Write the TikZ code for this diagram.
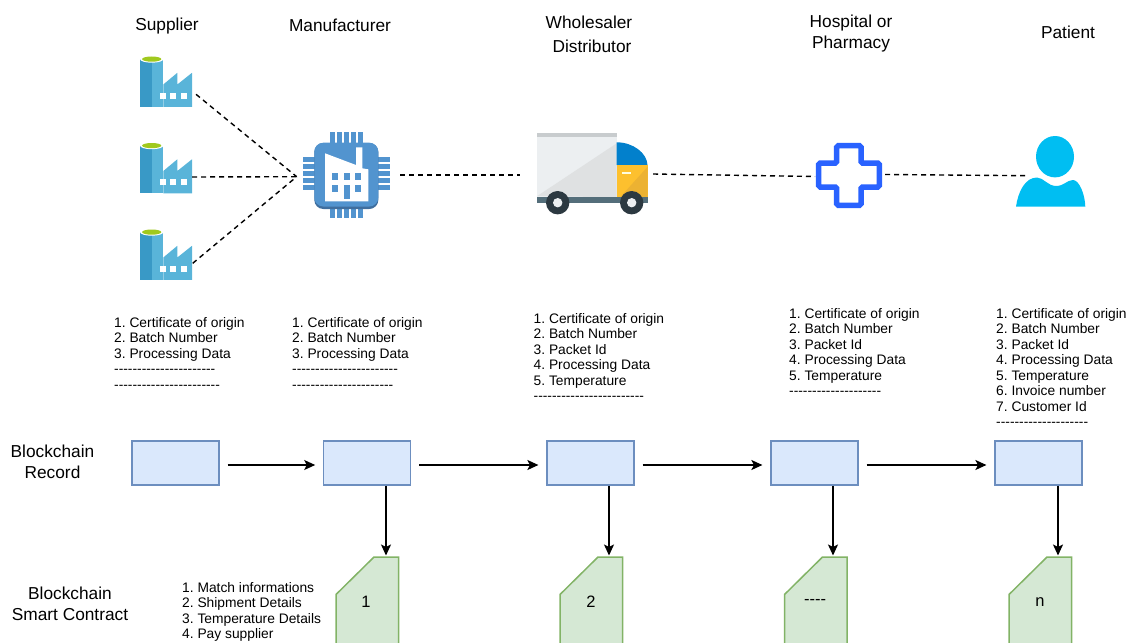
\documentclass[tikz,border=0pt]{standalone}
\usepackage{fontspec}
\newfontfamily\hv{Liberation Sans}
\usetikzlibrary{arrows.meta}
\definecolor{fdark}{HTML}{3999C6}
\definecolor{flight}{HTML}{59B4D9}
\definecolor{fgreen}{HTML}{A0C91E}
\definecolor{chipb}{HTML}{5294CF}
\definecolor{chipd}{HTML}{3F6E9E}
\definecolor{crossb}{HTML}{2962FF}
\definecolor{persb}{HTML}{00BEF2}
\definecolor{recfill}{HTML}{DAE8FC}
\definecolor{recline}{HTML}{6C8EBF}
\definecolor{cardfill}{HTML}{D5E8D4}
\definecolor{cardline}{HTML}{82B366}
\definecolor{truckbody}{HTML}{ECEFF1}
\definecolor{truckshade}{HTML}{DFE1E2}
\definecolor{truckstripe}{HTML}{C8CCCE}
\definecolor{truckblue}{HTML}{0280CC}
\definecolor{truckyellow}{HTML}{FDC02E}
\definecolor{truckamber}{HTML}{ECB232}
\definecolor{truckbase}{HTML}{546E7A}
\definecolor{truckwheel}{HTML}{2C3941}
\definecolor{truckdash}{HTML}{FFFDE0}
\frenchspacing
\tikzset{
  x=1pt,y=-1pt,
  txt/.style={font=\hv\frenchspacing\fontsize{17.3}{21}\selectfont,inner sep=0pt,align=center},
  cardtxt/.style={font=\hv\fontsize{16.5}{18}\selectfont,inner sep=0pt,align=center},
  lst/.style={font=\hv\frenchspacing\fontsize{13.8}{15.5}\selectfont,inner sep=0pt,align=left,anchor=north west},
  recbox/.style={draw=recline,fill=recfill,line width=1.2pt,minimum width=87pt,minimum height=44pt,inner sep=0pt},
  dashline/.style={dash pattern=on 5pt off 4pt,line width=1.4pt,black},
  arr/.style={-{Stealth[length=11pt,width=10pt,inset=2.5pt]},line width=1.4pt,black},
  cardshape/.style={fill=cardfill,draw=cardline,line width=1.5pt},
  factory/.pic={
    \fill[flight] (12,3) rectangle (23.3,51.3);
    \fill[flight] (23.3,29) -- (37.3,17.3) -- (37.3,29) -- (52,17.3) -- (52,51.3) -- (23.3,51.3) -- cycle;
    \fill[fdark] (0,3.5) rectangle (12,51.3);
    \fill[white] (11.7,3.6) ellipse [x radius=11.7,y radius=3.6];
    \fill[fgreen] (11.7,3.6) ellipse [x radius=9.6,y radius=2.6];
    \fill[white] (20.4,37) rectangle (26.2,43);
    \fill[white] (30.4,37) rectangle (36.2,43);
    \fill[white] (40.8,37) rectangle (46.8,43);
  },
  card/.pic={
    \path[cardshape] (0,37.5) -- (38,0) -- (62.7,0) -- (62.7,90) -- (0,90) -- cycle;
  }
}
\newcommand{\chippins}{%
  \foreach \i in {0,1,2,3,4}{
    \fill[chipb] (330+\i*7,132) rectangle (334.7+\i*7,144);
    \fill[chipb] (330+\i*7,207) rectangle (334.7+\i*7,217.5);
    \fill[chipb] (303.3,157+\i*7) rectangle (315,161.7+\i*7);
    \fill[chipb] (378,157+\i*7) rectangle (390,161.7+\i*7);
  }}
\begin{document}
\begin{tikzpicture}
\useasboundingbox (0,0) rectangle (1131,642);
% headings
\node[txt] (hsup) at (167,26) {Supplier};
\node[txt] (hman) at (340,25) {Manufacturer};
\node[txt] (hwh1) at (589,22) {Wholesaler};
\node[txt] (hwh2) at (592,46) {Distributor};
\node[txt] (hhos) at (851,34) {Hospital or\\Pharmacy};
\node[txt] (hpat) at (1068,32) {Patient};
% factories
\pic at (140,55.5) {factory};
\pic at (140,142) {factory};
\pic at (140,228.5) {factory};
% chip
\chippins
\fill[chipd,rounded corners=9pt] (314.3,143) rectangle (378.3,209);
\fill[chipb,rounded corners=9pt] (314.3,142.7) rectangle (378.3,206.5);
\fill[white] (325,153.3) -- (356,165) -- (356,147.3) -- (362.3,147.3) -- (362.3,168.3) -- (368.3,169.3) -- (368.3,201.3) -- (325,201.3) -- cycle;
\foreach \x in {332,343.7,355.3}{
  \fill[chipb] (\x,173.3) rectangle (\x+6,180);
  \fill[chipb] (\x,184.7) rectangle (\x+6,191.7);
}
\fill[chipb] (343.7,191) rectangle (349.7,199.3);
% truck
\fill[truckbody] (537.3,133.3) rectangle (616.7,197.3);
\fill[truckshade] (537.3,196) -- (616.7,143.3) -- (616.7,197.3) -- cycle;
\fill[truckstripe] (537.3,133.3) rectangle (616.7,136.7);
\fill[truckblue] (616.7,142.3) .. controls (633,142.3) and (647,153) .. (647.5,165) -- (616.7,165) -- cycle;
\fill[truckyellow] (616.7,165) rectangle (647.7,197.3);
\fill[truckamber] (647.7,166.7) -- (620,197.3) -- (647.7,197.3) -- cycle;
\fill[truckdash] (622,172) rectangle (630.7,173.7);
\fill[truckbase] (537.3,197.3) rectangle (648,202.7);
\foreach \x in {557.7,631.7}{
  \fill[truckwheel] (\x,202.7) circle (11.7);
  \fill[truckbody] (\x,202.7) circle (4.7);
}
% cross
\draw[crossb,line width=5.5pt,rounded corners=1.5pt,fill=white]
  (836.7,145.7) -- (861,145.7) -- (861,163) -- (879.3,163) -- (879.3,187) -- (861,187) -- (861,205.3) -- (836.7,205.3) -- (836.7,187) -- (818.7,187) -- (818.7,163) -- (836.7,163) -- cycle;
% person
\fill[persb] (1055,156.7) ellipse [x radius=19,y radius=20.7];
\fill[persb] (1016,206.7) .. controls (1018,192) and (1025,177.5) .. (1037,177.5)
  .. controls (1043,177.5) and (1048,186) .. (1056,186)
  .. controls (1064,186) and (1067,180) .. (1073,180)
  .. controls (1079,180) and (1085,194) .. (1085.3,206.7) -- cycle;
% dashed links
\coordinate (dsup1) at (196,94.3);
\coordinate (dsup2) at (192,177);
\coordinate (dsup3) at (192.7,263.3);
\coordinate (dmanin) at (296.7,176.7);
\coordinate (dmanout) at (400,175);
\coordinate (dtruckin) at (520,175);
\coordinate (dtruckout) at (653,174);
\coordinate (dcrossin) at (815,176.5);
\coordinate (dcrossout) at (885,174.5);
\coordinate (dperson) at (1026.7,175.7);
\draw[dashline] (dsup1) -- (dmanin);
\draw[dashline] (dsup2) -- (dmanin);
\draw[dashline] (dsup3) -- (dmanin);
\draw[dashline] (dmanout) -- (dtruckin);
\draw[dashline] (dtruckout) -- (dcrossin);
\draw[dashline] (dcrossout) -- (dperson);
% lists
\node[lst] (l1) at (114,317) {1. Certificate of origin\\2. Batch Number\\3. Processing Data\\----------------------\\-----------------------};
\node[lst] (l2) at (292,317) {1. Certificate of origin\\2. Batch Number\\3. Processing Data\\-----------------------\\----------------------};
\node[lst] (l3) at (533.5,313) {1. Certificate of origin\\2. Batch Number\\3. Packet Id\\4. Processing Data\\5. Temperature\\------------------------};
\node[lst] (l4) at (789,308) {1. Certificate of origin\\2. Batch Number\\3. Packet Id\\4. Processing Data\\5. Temperature\\--------------------};
\node[lst] (l5) at (996,308) {1. Certificate of origin\\2. Batch Number\\3. Packet Id\\4. Processing Data\\5. Temperature\\6. Invoice number\\7. Customer Id\\--------------------};
\node[lst] (l6) at (182,582) {1. Match informations\\2. Shipment Details\\3. Temperature Details\\4. Pay supplier};
% row labels
\node[txt] (rowa) at (52.5,462) {Blockchain\\Record};
\node[txt] (rowb) at (70,603.5) {Blockchain\\Smart Contract};
% records
\node[recbox] (b1) at (175.5,463) {};
\node[recbox] (b2) at (367.3,463) {};
\node[recbox] (b3) at (590.5,463) {};
\node[recbox] (b4) at (814.5,463) {};
\node[recbox] (b5) at (1038.5,463) {};
\foreach \a/\b in {b1/b2,b2/b3,b3/b4,b4/b5}
  \draw[arr,shorten <=8pt,shorten >=8pt] ([yshift=-2pt]\a.east) -- ([yshift=-2pt]\b.west);
% cards
\begin{scope}
\clip (0,0) rectangle (1131,642);
\pic at (336,557) {card};
\pic at (560,557) {card};
\pic at (784.5,557) {card};
\pic at (1009,557) {card};
\end{scope}
\node[cardtxt] (c1) at (366,602) {1};
\node[cardtxt] (c2) at (591,602) {2};
\node[cardtxt] (c3) at (815,602) {----};
\node[cardtxt] (c4) at (1040,602) {n};
\coordinate (t1) at (386,555.5);
\coordinate (t2) at (609,555.5);
\coordinate (t3) at (833,555.5);
\coordinate (t4) at (1058,555.5);
\draw[arr] (t1 |- b2.south) -- (t1);
\draw[arr] (t2 |- b3.south) -- (t2);
\draw[arr] (t3 |- b4.south) -- (t3);
\draw[arr] (t4 |- b5.south) -- (t4);
\end{tikzpicture}
\end{document}
